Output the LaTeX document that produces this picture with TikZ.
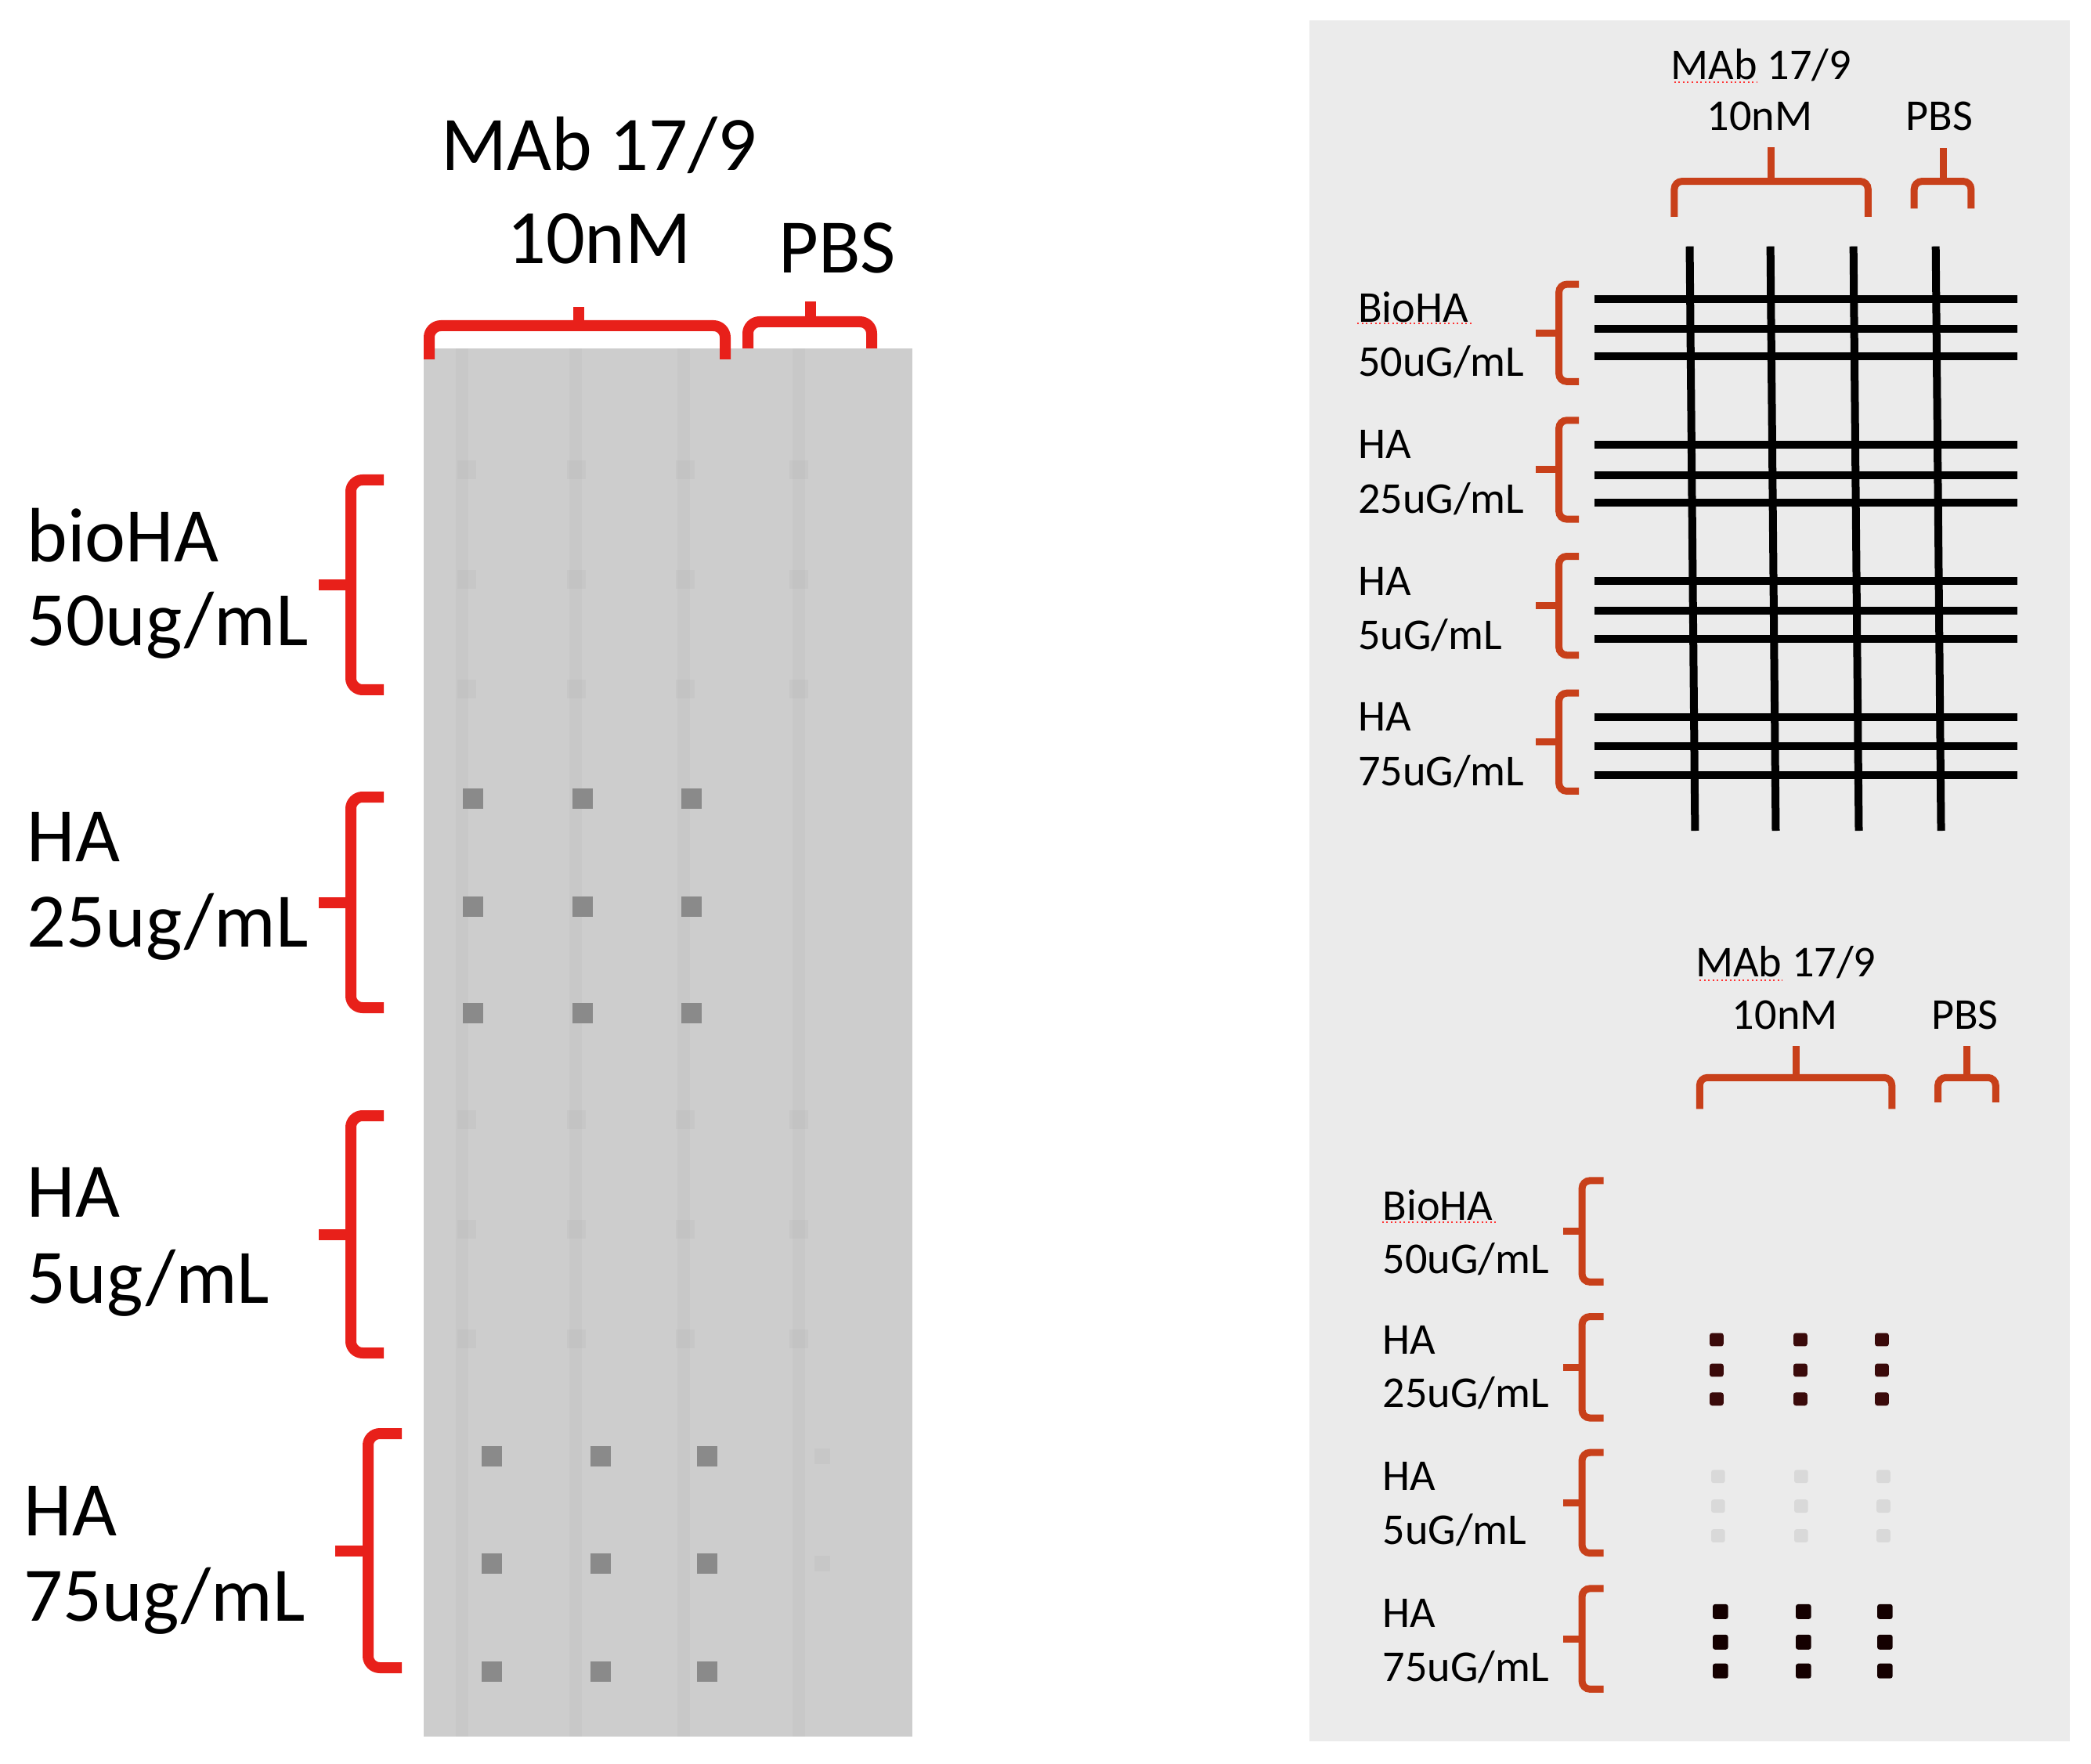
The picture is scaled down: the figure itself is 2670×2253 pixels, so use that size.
\documentclass[tikz,border=0pt]{standalone}
\usepackage{fontspec}
\setmainfont{Carlito}
\begin{document}
\begin{tikzpicture}[x=0.1mm,y=-0.1mm,
  big/.style={font=\fontsize{28}{30}\selectfont,inner sep=0pt},
  sml/.style={font=\fontsize{16}{18}\selectfont,inner sep=0pt},
  redA/.style={draw=bred,line width=1.4mm,rounded corners=1.5mm},
  redB/.style={draw=ored,line width=0.9mm,rounded corners=1mm},
  wire/.style={draw=black,line width=1mm},
  squig/.style={draw=red!80,line width=0.2mm,densely dotted}]
\definecolor{bred}{HTML}{E8201A}
\definecolor{ored}{HTML}{C8401A}
\definecolor{blot}{HTML}{CDCDCD}
\definecolor{spot}{HTML}{8A8A8A}
\definecolor{panel}{HTML}{EBEBEB}
\definecolor{dotc}{HTML}{3A0A0A}
\useasboundingbox (0,0) rectangle (2670,2253);
\fill[white] (0,0) rectangle (2670,2253);
% ---------- left blot ----------
\fill[blot] (541,445) rectangle (1165,2218);
\foreach \x in {590,735,873,1020} \fill[black!27,opacity=0.25] (\x-8,445) rectangle (\x+8,2218);
\foreach \y in {600,740,880,1430,1570,1710} \foreach \x in {596,736,875,1020} \fill[black!30,opacity=0.2] (\x-12,\y-12) rectangle (\x+12,\y+12);
\foreach \x in {604,744,883} \foreach \y in {1020,1158,1294} \fill[spot] (\x-13,\y-13) rectangle (\x+13,\y+13);
\foreach \x in {628,767,903} \foreach \y in {1860,1997,2135} \fill[spot] (\x-13,\y-13) rectangle (\x+13,\y+13);
\foreach \y in {1860,1997} \fill[black!30,opacity=0.2] (1040,\y-10) rectangle (1060,\y+10);
% left labels
\node[big,anchor=west] (l1a) at (34,684) {bioHA};
\node[big,anchor=west] (l1b) at (34,799) {50ug/mL};
\node[big,anchor=west] (l2a) at (34,1069) {HA};
\node[big,anchor=west] (l2b) at (34,1184) {25ug/mL};
\node[big,anchor=west] (l3a) at (34,1523) {HA};
\node[big,anchor=west] (l3b) at (34,1639) {5ug/mL};
\node[big,anchor=west] (l4a) at (30,1930) {HA};
\node[big,anchor=west] (l4b) at (30,2045) {75ug/mL};
\node[big] (tm) at (765,185) {MAb 17/9};
\node[big] (tn) at (765,305) {10nM};
\node[big] (tp) at (1069,317) {PBS};
% left braces
\foreach \t/\b/\xl/\xr/\xt in {613/881/448/490/407,1018/1287/448/490/407,1425/1728/448/490/407,1831/2130/470/513/428}{
  \draw[redA] (\xr,\t) -- (\xl,\t) -- (\xl,\b) -- (\xr,\b);
  \draw[redA,rounded corners=0] (\xl,{(\t+\b)/2}) -- (\xt,{(\t+\b)/2});}
\draw[redA] (548,459) -- (548,416) -- (926,416) -- (926,459);
\draw[redA,rounded corners=0] (739,416) -- (739,392);
\draw[redA] (955,445) -- (955,411) -- (1113,411) -- (1113,445);
\draw[redA,rounded corners=0] (1035,411) -- (1035,385);
% ---------- right panel ----------
\fill[panel] (1672,26) rectangle (2643,2224);
\begin{scope}[shift={(1650,0)},xscale=0.9817,yscale=1.0526,shift={(-1650,0)}]
\node[sml] (rm) at (2260,79) {MAb 17/9};
\draw[squig] (2147,100) -- (2255,100);
\node[sml] (rn) at (2258,141) {10nM};
\node[sml] (rp) at (2492,141) {PBS};
\draw[redB] (2147,263) -- (2147,220) -- (2399,220) -- (2399,263);
\draw[redB,rounded corners=0] (2273,220) -- (2273,179);
\draw[redB] (2459,253) -- (2459,220) -- (2533,220) -- (2533,253);
\draw[redB,rounded corners=0] (2497,220) -- (2497,180);
\foreach \y in {363,399,432,540,577,610,705,741,775,870,905,941} \draw[wire] (2043,\y) -- (2593,\y);
\foreach \x in {2167,2272,2380,2487} \draw[wire] (\x,299) -- (\x+7,1008);
\foreach \y/\a/\b [count=\i] in {373/BioHA/50uG\slash mL,539/HA/25uG\slash mL,705/HA/5uG\slash mL,870/HA/75uG\slash mL}{
  \node[sml,anchor=west] (ra\i) at (1735,\y) {\a};
  \node[sml,anchor=west] (rb\i) at (1735,\y+66) {\b};}
\draw[squig] (1735,392) -- (1885,392);
\foreach \t/\b in {345/463,510/630,675/795,841/960}{
  \draw[redB] (2023,\t) -- (1997,\t) -- (1997,\b) -- (2023,\b);
  \draw[redB,rounded corners=0] (1997,{(\t+\b)/2}) -- (1967,{(\t+\b)/2});}
\end{scope}
\begin{scope}[shift={(1650,1150)},xscale=0.9817,yscale=1.0526,shift={(-1650,-1150)}]
\node[sml] (bm) at (2292,1225) {MAb 17/9};
\draw[squig] (2180,1247) -- (2288,1247);
\node[sml] (bn) at (2291,1289) {10nM};
\node[sml] (bp) at (2525,1289) {PBS};
\draw[redB] (2180,1403) -- (2180,1365) -- (2430,1365) -- (2430,1403);
\draw[redB,rounded corners=0] (2305,1365) -- (2305,1327);
\draw[redB] (2490,1395) -- (2490,1365) -- (2565,1365) -- (2565,1395);
\draw[redB,rounded corners=0] (2528,1365) -- (2528,1327);
\foreach \y/\a/\b [count=\i] in {1520/BioHA/50uG\slash mL,1683/HA/25uG\slash mL,1849/HA/5uG\slash mL,2015/HA/75uG\slash mL}{
  \node[sml,anchor=west] (sa\i) at (1767,\y) {\a};
  \node[sml,anchor=west] (sb\i) at (1767,\y+65) {\b};}
\draw[squig] (1767,1540) -- (1915,1540);
\foreach \t/\b in {1490/1613,1655/1778,1820/1942,1985/2107}{
  \draw[redB] (2055,\t) -- (2027,\t) -- (2027,\b) -- (2055,\b);
  \draw[redB,rounded corners=0] (2027,{(\t+\b)/2}) -- (2002,{(\t+\b)/2});}
\foreach \x in {2202,2311,2417} \foreach \y in {1683,1720,1755} \fill[dotc,rounded corners=0.3mm] (\x-9,\y-8) rectangle (\x+9,\y+8);
\foreach \x in {2204,2312,2419} \foreach \y in {1849,1885,1921} \fill[black!15,rounded corners=0.3mm] (\x-9,\y-8) rectangle (\x+9,\y+8);
\foreach \x in {2207,2315,2421} \foreach \y in {2013,2050,2085} \fill[black!92!red,rounded corners=0.3mm] (\x-10,\y-9) rectangle (\x+10,\y+9);
\end{scope}
\end{tikzpicture}
\end{document}
